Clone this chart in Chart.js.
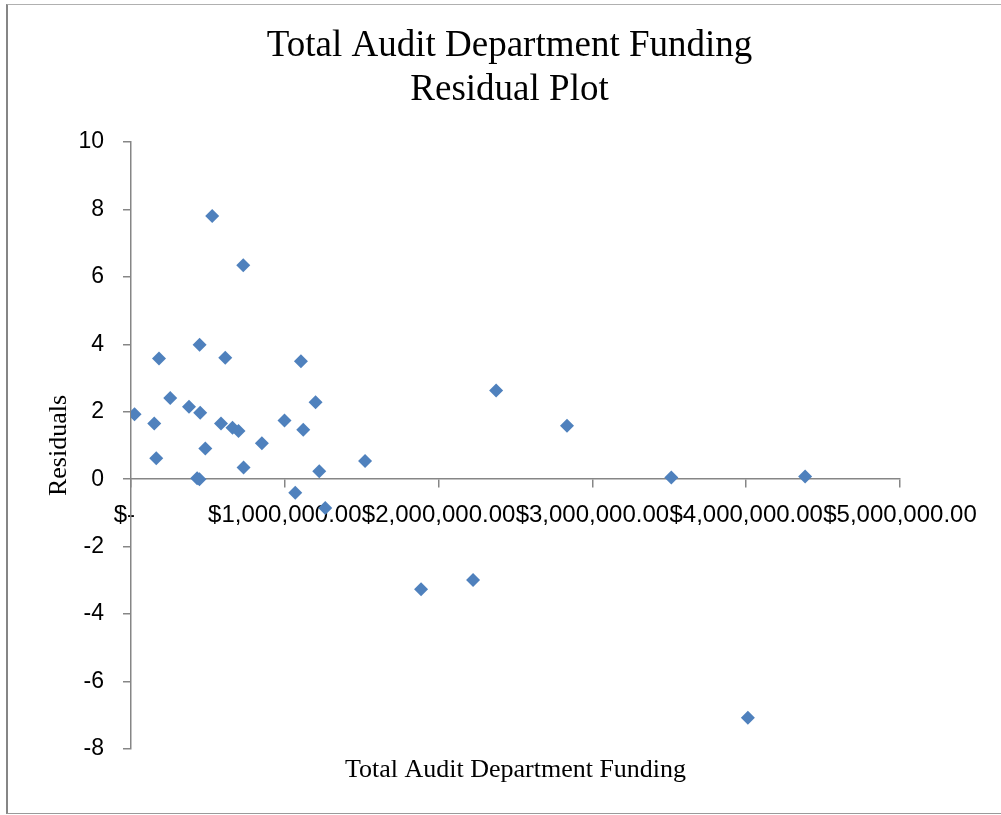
<!DOCTYPE html>
<html>
<head>
<meta charset="utf-8">
<title>Total Audit Department Funding Residual Plot</title>
<script src="https://cdn.jsdelivr.net/npm/chart.js@4/dist/chart.umd.min.js"></script>
<style>
	body { margin: 0; background: #fff; }
	.wrap { position: relative; width: 1001px; height: 815px; }
	.frame {
		position: absolute; left: 6px; top: 4px; width: 995px; height: 810px;
		box-sizing: border-box; pointer-events: none;
		border-left: 2px solid #868686; border-top: 1px solid #b0b0b0; border-bottom: 1px solid #9a9a9a;
	}
	canvas { position: absolute; left: 0; top: 0; }
</style>
</head>
<body>
<div class="wrap">
	<canvas data-chart width="1001" height="815"></canvas>
	<div class="frame"></div>
</div>
<script>
const canvas = document.querySelector('[data-chart]');
const ctx = canvas.getContext('2d');

// Data
const funding = [23000, 151000, 164000, 182000, 255000, 377000, 430000, 445000, 446000, 450000, 483000, 528000, 585000, 613000, 660000, 699000, 730000, 732000, 851000, 998000, 1068000, 1105000, 1120000, 1200000, 1224000, 1263000, 1522000, 1886000, 2224000, 2374000, 2835000, 3513000, 4011000, 4383000];
const residuals = [1.93, 1.65, 0.62, 3.58, 2.41, 2.15, 0.03, 0.0, 3.99, 1.97, 0.91, 7.81, 1.65, 3.60, 1.53, 1.43, 6.35, 0.35, 1.07, 1.74, -0.40, 3.50, 1.47, 2.28, 0.24, -0.85, 0.54, -3.26, -2.99, 2.63, 1.59, 0.05, -7.07, 0.08];
// accounting format pads the zero label on the right
const xTickLabels = ['$-  ', '$1,000,000.00', '$2,000,000.00', '$3,000,000.00', '$4,000,000.00', '$5,000,000.00'];

// Config
const POINT_COLOR = '#4f81bd';
const AXIS_COLOR = '#868686';
const SERIF = '"Liberation Serif", "Times New Roman", serif';
const SANS = '"Liberation Sans", Arial, sans-serif';

const points = funding.map((x, i) => ({ x, y: residuals[i] }));

const data = {
	datasets: [
		{
			label: 'Residuals',
			data: points,
			pointStyle: 'rectRot',
			pointRadius: 7,
			pointBorderWidth: 0,
			backgroundColor: POINT_COLOR,
			borderColor: POINT_COLOR
		}
	]
};

const options = {
	responsive: false,
	animation: false,
	layout: {
		padding: { top: 0, left: 18, right: 0, bottom: 0 }
	},
	plugins: {
		legend: { display: false },
		tooltip: { enabled: false },
		title: {
			display: true,
			text: ['Total Audit Department Funding', 'Residual Plot'],
			color: '#000',
			font: { family: SERIF, size: 37, weight: 'normal', lineHeight: 1.19 },
			padding: { top: 24, bottom: 30 }
		}
	},
	scales: {
		x: {
			type: 'linear',
			position: { y: 0 },
			min: 0,
			max: 5000000,
			afterFit: (scale) => { scale.height = 30; },
			ticks: {
				stepSize: 1000000,
				autoSkip: false,
				minRotation: 0,
				maxRotation: 0,
				padding: 14,
				color: '#000',
				font: { family: SANS, size: 24 },
				callback: (value, index) => xTickLabels[index]
			},
			grid: { drawOnChartArea: false, drawTicks: true, tickLength: 8, color: AXIS_COLOR, lineWidth: 1.5 },
			border: { color: AXIS_COLOR, width: 1.5 }
		},
		x2: {
			type: 'linear',
			position: 'bottom',
			afterFit: (scale) => { scale.height = 66; },
			ticks: { display: false },
			grid: { display: false, drawTicks: false },
			border: { display: false },
			title: {
				display: true,
				text: 'Total Audit Department Funding',
				color: '#000',
				font: { family: SERIF, size: 26, weight: 'normal' },
				padding: { top: 0, bottom: 29 }
			}
		},
		y: {
			type: 'linear',
			position: 'left',
			min: -8,
			max: 10,
			afterFit: (scale) => { scale.width = 113; },
			ticks: {
				stepSize: 2,
				padding: 19,
				color: '#000',
				font: { family: SANS, size: 23 }
			},
			grid: { drawOnChartArea: false, drawTicks: true, tickLength: 8, color: AXIS_COLOR, lineWidth: 1.5 },
			border: { color: AXIS_COLOR, width: 1.5 },
			title: {
				display: true,
				text: 'Residuals',
				color: '#000',
				font: { family: SERIF, size: 26, weight: 'normal' },
				padding: { top: 26, bottom: 0 }
			}
		},
		// empty right gutter so the x labels and title sit like the original
		yRight: {
			type: 'linear',
			position: 'right',
			afterFit: (scale) => { scale.width = 101; },
			ticks: { display: false },
			grid: { display: false, drawTicks: false },
			border: { display: false }
		}
	}
};

// Init
new Chart(ctx, {
	type: 'scatter',
	data,
	options
});
</script>
</body>
</html>
